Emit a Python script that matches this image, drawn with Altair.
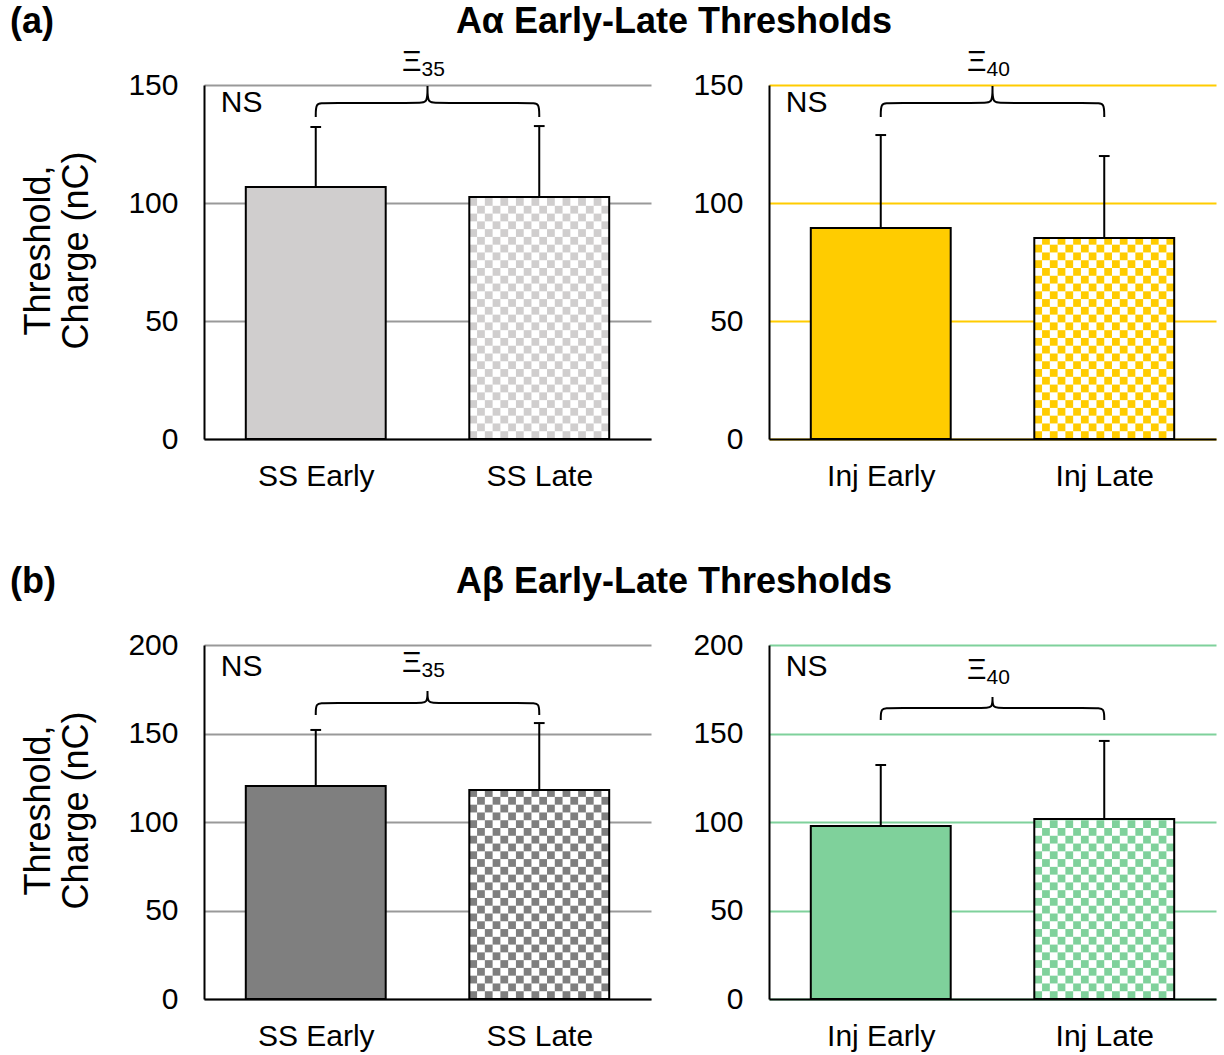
import math
import altair as alt
import pandas as pd

FONT = "Liberation Sans"
W, H = 447, 354

# ---------------- data ----------------
row_tags = ["(a)", "(b)"]
row_titles = ["Aα Early-Late Thresholds", "Aβ Early-Late Thresholds"]

ss_cats = ["SS Early", "SS Late"]
inj_cats = ["Inj Early", "Inj Late"]

a_ss_mean = [106.8, 102.5]
a_ss_sd = [25.4, 30.1]
a_inj_mean = [89.4, 85.2]
a_inj_sd = [39.4, 34.7]
b_ss_mean = [120.3, 118.1]
b_ss_sd = [31.7, 37.8]
b_inj_mean = [97.7, 101.7]
b_inj_sd = [34.5, 44.1]

y_max = [150, 200]
y_step = [50, 50]

ns_text = "NS"
brace_sym = "Ξ"
brace_sub = ["35", "40", "35", "40"]
brace_end = [136.4, 136.4, 160.5, 157.6]
brace_bar = [142.4, 142.4, 167.2, 164.4]
brace_tip = [149.6, 149.6, 174.0, 170.6]
brace_lab = [159.7, 159.7, 189.8, 185.9]
ns_y = [142.4, 142.4, 187.6, 187.6]

bar_colors = ["#D0CECE", "#FFCC00", "#7F7F7F", "#7FD19B"]
grid_colors = ["#999999", "#FFCC00", "#999999", "#7FD19B"]

CENTERS = [0.5, 1.5]
HALF = 0.313
CAP = 0.024
N_CELLS = 18


def checker_cells(xl, xr, v, ymax):
    cw = (xr - xl) / N_CELLS
    cw_px = cw * W / 2.0
    ch = cw_px * ymax / H
    rows = int(math.ceil(v / ch))
    out = []
    for j in range(rows):
        for i in range(N_CELLS):
            if (i + j) % 2 == 0:
                y0 = j * ch
                y1 = min((j + 1) * ch, v)
                out.append({"x0": xl + i * cw, "x1": xl + (i + 1) * cw, "y0": y0, "y1": y1})
    return pd.DataFrame(out)


def brace_points(yE, yH, yT):
    x0, x1, xm = CENTERS[0], CENTERS[1], (CENTERS[0] + CENTERS[1]) / 2
    r = 0.035
    pts = [
        (x0, yE), (x0, yE), (x0, yE), (x0, yH), (x0 + r, yH), (xm - r, yH), (xm, yH),
        (xm, yT), (xm, yT), (xm, yT),
        (xm, yH), (xm + r, yH), (x1 - r, yH), (x1, yH), (x1, yE), (x1, yE), (x1, yE),
    ]
    return pd.DataFrame({"i": list(range(len(pts))), "bx": [p[0] for p in pts], "by": [p[1] for p in pts]})


def make_panel(k, cats, means, sds, ymax, ystep, left, tag=None, title=None):
    color = bar_colors[k]
    bars = pd.DataFrame({
        "cat": cats,
        "xc": CENTERS,
        "xl": [c - HALF for c in CENTERS],
        "xr": [c + HALF for c in CENTERS],
        "zero": [0, 0],
        "mean": means,
        "top": [m + s for m, s in zip(means, sds)],
        "capl": [c - CAP for c in CENTERS],
        "capr": [c + CAP for c in CENTERS],
        "fill": [color, "#FFFFFF"],
    })
    cells = checker_cells(CENTERS[1] - HALF, CENTERS[1] + HALF, means[1], ymax)
    brace = brace_points(brace_end[k], brace_bar[k], brace_tip[k])
    ann = pd.DataFrame({"ax": [1.0], "ay": [brace_lab[k]], "nx": [0.075], "ny": [ns_y[k]],
                        "sym": [brace_sym], "sub": [brace_sub[k]], "ns": [ns_text]})

    xs = alt.Scale(domain=[0, 2], nice=False, zero=False)
    ys = alt.Scale(domain=[0, ymax], nice=False, zero=True)
    xaxis = alt.Axis(values=CENTERS, labelExpr=f"datum.value < 1 ? '{cats[0]}' : '{cats[1]}'",
                     title=None, grid=False, ticks=False, domainColor="#000000", domainWidth=2,
                     labelFontSize=30, labelPadding=22, labelColor="#000000", labelFont=FONT)
    ytitle = ["Threshold,", "Charge (nC)"] if left else None
    yaxis = alt.Axis(values=list(range(0, ymax + 1, ystep)), title=ytitle, grid=True,
                     gridColor=grid_colors[k], gridWidth=2, ticks=False,
                     domainColor="#000000", domainWidth=2, labelFontSize=30, labelPadding=26,
                     labelColor="#000000", labelFont=FONT, titleFont=FONT, titleFontSize=36,
                     titleFontWeight="normal", titleColor="#000000", titlePadding=32,
                     titleLineHeight=38, titleY=H / 2 - 12)

    def X(f):
        return alt.X(f, type="quantitative", scale=xs, axis=xaxis)

    def Y(f):
        return alt.Y(f, type="quantitative", scale=ys, axis=yaxis)

    base = alt.Chart(bars)
    fills = base.mark_rect().encode(x=X("xl"), x2="xr", y=Y("zero"), y2="mean",
                                    color=alt.Color("fill:N", scale=None))
    checks = alt.Chart(cells).mark_rect(color=color).encode(x=X("x0"), x2="x1", y=Y("y0"), y2="y1")
    outline = base.mark_rect(fillOpacity=0, stroke="#000000", strokeWidth=2).encode(
        x=X("xl"), x2="xr", y=Y("zero"), y2="mean")
    err = base.mark_rule(color="#000000", strokeWidth=2).encode(x=X("xc"), y=Y("mean"), y2="top")
    caps = base.mark_rule(color="#000000", strokeWidth=2).encode(x=X("capl"), x2="capr", y=Y("top"))
    br = alt.Chart(brace).mark_line(interpolate="basis", color="#000000", strokeWidth=2).encode(
        x=X("bx"), y=Y("by"), order="i:Q")
    annb = alt.Chart(ann)
    ns = annb.mark_text(align="left", baseline="middle", fontSize=30, font=FONT, color="#000000").encode(
        x=X("nx"), y=Y("ny"), text="ns:N")
    sym = annb.mark_text(align="right", baseline="middle", fontSize=30, font=FONT, color="#000000", dx=-6).encode(
        x=X("ax"), y=Y("ay"), text="sym:N")
    sub = annb.mark_text(align="left", baseline="middle", fontSize=21, font=FONT, color="#000000", dx=-6, dy=8).encode(
        x=X("ax"), y=Y("ay"), text="sub:N")

    layers = [fills, checks, outline, err, caps, br, ns, sym, sub]
    if left:
        tagdf = pd.DataFrame({"t": [tag], "ti": [title]})
        tg = alt.Chart(tagdf).mark_text(align="left", baseline="middle", fontSize=36, fontWeight="bold",
                                        font=FONT, color="#000000").encode(
            x=alt.value(-194), y=alt.value(-63), text="t:N")
        tt = alt.Chart(tagdf).mark_text(align="center", baseline="middle", fontSize=36, fontWeight="bold",
                                        font=FONT, color="#000000").encode(
            x=alt.value(470), y=alt.value(-63), text="ti:N")
        layers += [tg, tt]
    return alt.layer(*layers).properties(width=W, height=H)


pa1 = make_panel(0, ss_cats, a_ss_mean, a_ss_sd, y_max[0], y_step[0], True, row_tags[0], row_titles[0])
pa2 = make_panel(1, inj_cats, a_inj_mean, a_inj_sd, y_max[0], y_step[0], False)
pb1 = make_panel(2, ss_cats, b_ss_mean, b_ss_sd, y_max[1], y_step[1], True, row_tags[1], row_titles[1])
pb2 = make_panel(3, inj_cats, b_inj_mean, b_inj_sd, y_max[1], y_step[1], False)

row_a = alt.hconcat(pa1, pa2, spacing=118, bounds="flush")
row_b = alt.hconcat(pb1, pb2, spacing=118, bounds="flush")

# with flush bounds a nested concat row counts as zero height, so the spacing
# is the full row pitch (plot height + gap)
chart = alt.vconcat(row_a, row_b, spacing=H + 206, bounds="flush").properties(
    padding={"left": 10, "top": 4, "right": 8, "bottom": 5}
).configure(font=FONT).configure_view(strokeWidth=0)

chart.save("out.html", embed_options={"renderer": "svg", "actions": False})
